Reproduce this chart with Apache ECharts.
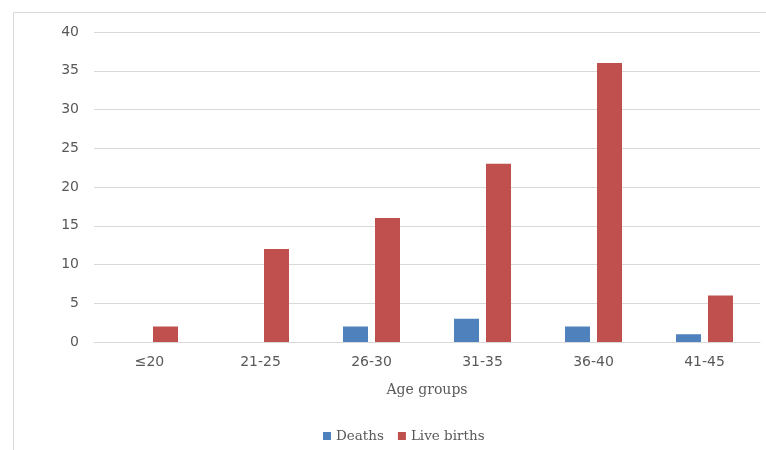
<!DOCTYPE html>
<html>
<head>
<meta charset="utf-8">
<script src="https://cdn.jsdelivr.net/npm/echarts@6/dist/echarts.min.js"></script>
<style>
html,body{margin:0;padding:0;background:#fff;}
#c{width:766px;height:450px;}
</style>
</head>
<body>
<div id="c"></div>
<script>
var categories = ['≤20', '21-25', '26-30', '31-35', '36-40', '41-45'];
var deaths = [0, 0, 2, 3, 2, 1];
var liveBirths = [2, 12, 16, 23, 36, 6];
var yTicks = [0, 5, 10, 15, 20, 25, 30, 35, 40];

var chart = echarts.init(document.getElementById('c'), null, {renderer: 'canvas'});
chart.setOption({
  animation: false,
  graphic: [{
    type: 'rect',
    shape: {x: 13.5, y: 12.5, width: 900, height: 600},
    style: {fill: 'none', stroke: '#d9d9d9', lineWidth: 1},
    silent: true, z: -10
  }],
  grid: {left: 94, right: 6, top: 32, bottom: 108, containLabel: false},
  legend: {
    data: ['Deaths', 'Live births'],
    left: 318, top: 424,
    itemWidth: 8, itemHeight: 8, itemGap: 14,
    icon: 'rect',
    textStyle: {fontFamily: 'DejaVu Serif', fontSize: 13.5, color: '#595959'}
  },
  xAxis: {
    type: 'category',
    data: categories,
    name: 'Age groups',
    nameLocation: 'middle',
    nameGap: 41,
    nameTextStyle: {fontFamily: 'DejaVu Serif', fontSize: 14, color: '#595959'},
    axisLine: {show: true, lineStyle: {color: '#d9d9d9', width: 1}},
    axisTick: {show: false},
    axisLabel: {fontFamily: 'DejaVu Sans', fontSize: 14, color: '#595959', margin: 13}
  },
  yAxis: {
    type: 'value',
    min: yTicks[0], max: yTicks[yTicks.length - 1], interval: 5,
    axisLine: {show: false},
    axisTick: {show: false},
    axisLabel: {fontFamily: 'DejaVu Sans', fontSize: 14, color: '#595959', margin: 15},
    splitLine: {lineStyle: {color: '#d9d9d9', width: 1}}
  },
  series: [{
    name: 'Deaths', type: 'bar', data: deaths,
    barWidth: 25, barGap: '28%',
    itemStyle: {color: '#4F81BD'}
  }, {
    name: 'Live births', type: 'bar', data: liveBirths,
    barWidth: 25,
    itemStyle: {color: '#C0504D'}
  }]
});
</script>
</body>
</html>
